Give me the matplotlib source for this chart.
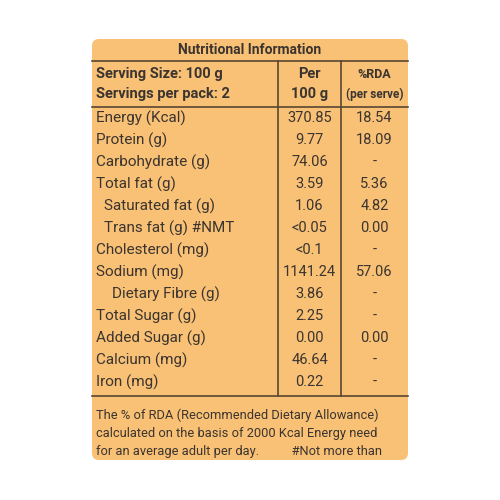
import matplotlib.pyplot as plt
from matplotlib.patches import FancyBboxPatch

nutrients = ["Energy (Kcal)", "Protein (g)", "Carbohydrate (g)", "Total fat (g)",
             "Saturated fat (g)", "Trans fat (g) #NMT", "Cholesterol (mg)", "Sodium (mg)",
             "Dietary Fibre (g)", "Total Sugar (g)", "Added Sugar (g)", "Calcium (mg)", "Iron (mg)"]
per_100g = ["370.85", "9.77", "74.06", "3.59", "1.06", "<0.05", "<0.1", "1141.24",
            "3.86", "2.25", "0.00", "46.64", "0.22"]
rda = ["18.54", "18.09", "-", "5.36", "4.82", "0.00", "-", "57.06", "-", "-", "0.00", "-", "-"]
indent = [0, 0, 0, 0, 1, 1, 0, 0, 2, 0, 0, 0, 0]
footer = ["The % of RDA (Recommended Dietary Allowance)",
          "calculated on the basis of 2000 Kcal Energy need",
          "for an average adult per day.          #Not more than"]

bg = "#F8C175"
line = "#5a4632"
txt = "#3b3430"
plt.rcParams["font.family"] = ["Roboto", "DejaVu Sans"]

fig = plt.figure(figsize=(5, 5), dpi=100)
ax = fig.add_axes([0, 0, 1, 1])
ax.set_xlim(0, 500)
ax.set_ylim(500, 0)
ax.axis("off")

ax.add_patch(FancyBboxPatch((92, 39), 316, 421, boxstyle="round,pad=0,rounding_size=7",
                            fc=bg, ec="none"))
x0, x1, c1, c2 = 92, 408, 278, 341
lw = 1.2
for y in [61, 107, 396]:
    ax.plot([x0, x1], [y, y], color=line, lw=lw)
ax.plot([c1, c1], [61, 396], color=line, lw=lw)
ax.plot([c2, c2], [61, 396], color=line, lw=lw)

ax.text(250, 50, "Nutritional Information", ha="center", va="center", fontsize=10,
        fontweight="bold", color=txt)
ax.text(96, 74, "Serving Size: 100 g", va="center", fontsize=10.5, fontweight="bold", color=txt)
ax.text(96, 94, "Servings per pack: 2", va="center", fontsize=10.5, fontweight="bold", color=txt)
ax.text((c1 + c2) / 2, 74, "Per", ha="center", va="center", fontsize=10.5, fontweight="bold", color=txt)
ax.text((c1 + c2) / 2, 94, "100 g", ha="center", va="center", fontsize=10.5, fontweight="bold", color=txt)
ax.text((c2 + x1) / 2, 74, "%RDA", ha="center", va="center", fontsize=9, fontweight="bold", color=txt)
ax.text((c2 + x1) / 2, 94, "(per serve)", ha="center", va="center", fontsize=8.5, fontweight="bold", color=txt)

step = 22
for i, name in enumerate(nutrients):
    y = 118 + i * step
    ax.text(96 + indent[i] * 8, y, name, va="center", fontsize=11, color=txt)
    ax.text((c1 + c2) / 2, y, per_100g[i], ha="center", va="center", fontsize=10.5, color=txt)
    ax.text((c2 + x1) / 2, y, rda[i], ha="center", va="center", fontsize=10.5, color=txt)

for i, t in enumerate(footer):
    ax.text(96, 415 + i * 18, t, va="center", fontsize=9.3, color=txt)

fig.savefig("out.png", dpi=100, facecolor="white")
